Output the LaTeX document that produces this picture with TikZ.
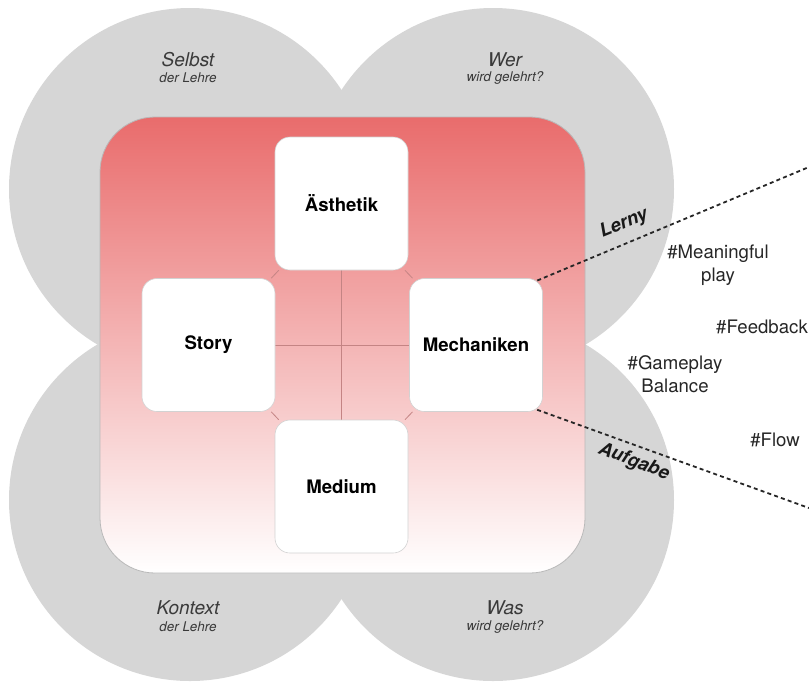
\documentclass[tikz,border=0pt]{standalone}
\usepackage{fontspec}
\setmainfont{TeX Gyre Heros}
\usetikzlibrary{backgrounds}

\definecolor{lensgrey}{RGB}{214,214,214}
\definecolor{boardred}{RGB}{233,108,108}
\definecolor{linkred}{RGB}{196,132,132}
\definecolor{labelgrey}{RGB}{58,58,58}

\tikzset{
  lens/.style={fill=lensgrey},
  board/.style={draw=gray!55, line width=0.4pt, rounded corners=27.5pt,
    minimum width=242.5pt, minimum height=228pt, top color=boardred, bottom color=white},
  element/.style={draw=gray!35, line width=0.3pt, fill=white, rounded corners=7.5pt,
    minimum width=66.5pt, minimum height=66.5pt, inner sep=0pt,
    font=\bfseries\fontsize{9.3}{11}\selectfont},
  link/.style={draw=linkred, line width=0.4pt},
  pointer/.style={draw=black!85, line width=0.9pt, dash pattern=on 2pt off 1.6pt, shorten <=-3pt},
  lenstitle/.style={text=labelgrey, font=\itshape\fontsize{9.5}{11}\selectfont},
  lenssub/.style={text=labelgrey, font=\itshape\fontsize{6.7}{8}\selectfont},
  side/.style={text=black!90, inner sep=1pt, font=\bfseries\itshape\fontsize{9.3}{11}\selectfont},
  tag/.style={text=black!85, align=center, font=\fontsize{9.3}{11.5}\selectfont},
}

\begin{document}
\begin{tikzpicture}[x=0.5pt, y=-0.5pt]
  \useasboundingbox (0,0) rectangle (809,682);

  \begin{scope}[on background layer]
    % four lenses behind the board
    \fill[lens] (190,189) circle[radius=90.5pt];
    \fill[lens] (493,189) circle[radius=90.5pt];
    \fill[lens] (190,500) circle[radius=90.5pt];
    \fill[lens] (493,500) circle[radius=90.5pt];
    \node[board] (board) at (342.5,345) {};
  \end{scope}

  % the four elements
  \node[element] (aesthetik) at (341.5,203.5) {Ästhetik};
  \node[element] (story) at (208.5,345) {Story};
  \node[element] (mechanik) at (476,345) {Mechaniken};
  \node[element] (medium) at (341.5,486.5) {Medium};

  \begin{scope}[on background layer]
    \draw[link] (aesthetik) -- (medium);
    \draw[link] (story) -- (mechanik);
    \draw[link] (aesthetik) -- (story);
    \draw[link] (aesthetik) -- (mechanik);
    \draw[link] (medium) -- (story);
    \draw[link] (medium) -- (mechanik);

    % zoom out of the mechanics
    \coordinate (lernyend) at (809,167);
    \coordinate (aufgabeend) at (809,508);
    \draw[pointer] (mechanik.north east) -- (lernyend);
    \draw[pointer] (mechanik.south east) -- (aufgabeend);
  \end{scope}

  % lens labels
  \node[lenstitle] (selbst) at (188,60) {Selbst};
  \node[lenssub] (selbstsub) at (188,78) {der Lehre};
  \node[lenstitle] (wer) at (505,60) {Wer};
  \node[lenssub] (wersub) at (505,78) {wird gelehrt?};
  \node[lenstitle] (kontext) at (188,608) {Kontext};
  \node[lenssub] (kontextsub) at (188,627) {der Lehre};
  \node[lenstitle] (was) at (505,608) {Was};
  \node[lenssub] (wassub) at (505,627) {wird gelehrt?};

  \node[side, rotate=22] (lerny) at (624,224) {Lerny};
  \node[side, rotate=-21] (aufgabe) at (634,462) {Aufgabe};

  \node[tag] (meaningful) at (718,265) {\#Meaningful\\play};
  \node[tag] (feedback) at (762,327) {\#Feedback};
  \node[tag] (gameplay) at (675,374) {\#Gameplay\\Balance};
  \node[tag] (flow) at (775,440) {\#Flow};
\end{tikzpicture}
\end{document}
